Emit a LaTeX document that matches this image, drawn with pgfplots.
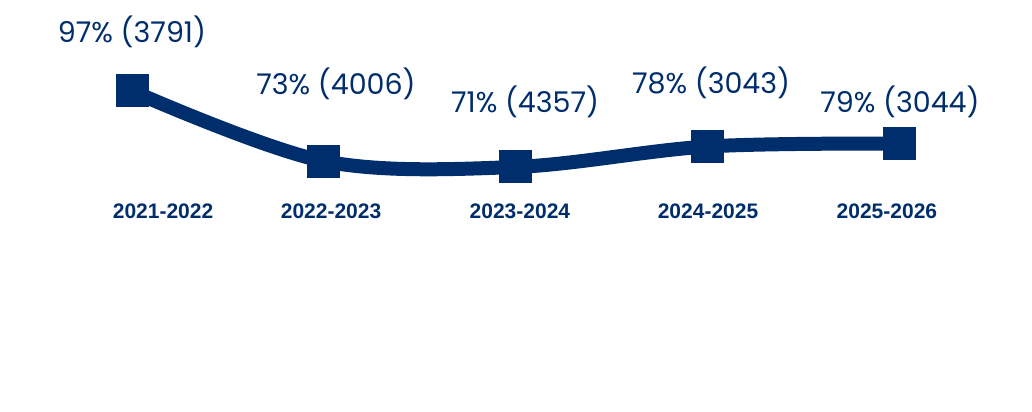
\documentclass[border=0pt]{standalone}
\usepackage{pgfplots}
\pgfplotsset{compat=1.18}
\usepackage{fontspec}
\setmainfont{Poppins}
\newfontfamily\tickfont{Liberation Sans}
\definecolor{navy}{RGB}{0,45,107}
\begin{document}
\begin{tikzpicture}
\begin{axis}[
  width=1032pt, height=412pt, scale only axis,
  hide axis, clip=false,
  xmin=-0.6884, xmax=4.6936,
  ymin=-12.82, ymax=128.13,
]
\addplot[navy, line width=14pt, smooth, tension=0.55, mark=square*, mark size=16pt,
  mark options={solid, line width=0pt, fill=navy, draw=navy}]
  coordinates {(0,97) (1,73) (2,71) (3,78) (4,79)};
\path (rel axis cs:0,0) rectangle (rel axis cs:1,1);
\begin{scope}[every node/.style={text=navy, anchor=base, font=\fontsize{28.5}{32}\selectfont}]
\node at (axis cs:0,113.42) {97\% (3791)};
\node at (axis cs:1.064,95.63) {73\% (4006)};
\node at (axis cs:2.050,89.81) {71\% (4357)};
\node at (axis cs:3.020,95.97) {78\% (3043)};
\node at (axis cs:4.005,89.81) {79\% (3044)};
\end{scope}
\begin{scope}[every node/.style={text=navy, anchor=base, font=\tickfont\bfseries\fontsize{21}{25}\selectfont}]
\node at (axis cs:0.162,53.21) {2021-2022};
\node at (axis cs:1.038,53.21) {2022-2023};
\node at (axis cs:2.023,53.21) {2023-2024};
\node at (axis cs:3.004,53.21) {2024-2025};
\node at (axis cs:3.937,53.21) {2025-2026};
\end{scope}
\end{axis}
\end{tikzpicture}
\end{document}
